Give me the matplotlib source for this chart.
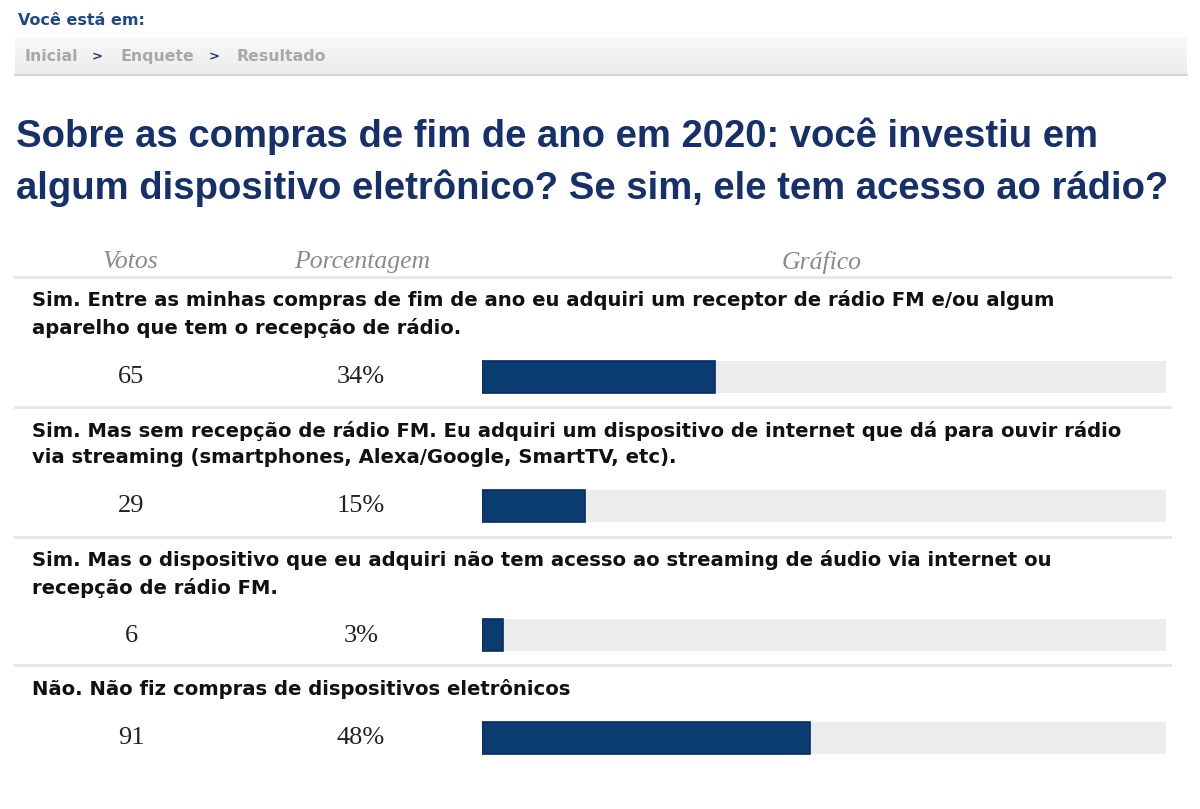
import matplotlib
matplotlib.use("Agg")
import matplotlib.pyplot as plt
import numpy as np

# ---- data ----
questions = [
    "Sim. Entre as minhas compras de fim de ano eu adquiri um receptor de rádio FM e/ou algum\naparelho que tem o recepção de rádio.",
    "Sim. Mas sem recepção de rádio FM. Eu adquiri um dispositivo de internet que dá para ouvir rádio\nvia streaming (smartphones, Alexa/Google, SmartTV, etc).",
    "Sim. Mas o dispositivo que eu adquiri não tem acesso ao streaming de áudio via internet ou\nrecepção de rádio FM.",
    "Não. Não fiz compras de dispositivos eletrônicos",
]
votes = [65, 29, 6, 91]
percentages = [34, 15, 3, 48]
column_headers = ["Votos", "Porcentagem", "Gráfico"]
title = "Sobre as compras de fim de ano em 2020: você investiu em\nalgum dispositivo eletrônico? Se sim, ele tem acesso ao rádio?"
breadcrumb = ["Inicial", "Enquete", "Resultado"]

W, H = 1200, 809
fig = plt.figure(figsize=(W / 100, H / 100), dpi=100)
ax = fig.add_axes([0, 0, 1, 1])
ax.set_xlim(0, W)
ax.set_ylim(H, 0)
ax.axis("off")

navy = "#15306a"
sans = ["Liberation Sans", "DejaVu Sans"]
wide = ["DejaVu Sans"]
serif = ["Liberation Serif", "DejaVu Serif"]

# header
ax.text(18, 20, "Você está em:", fontsize=11.5, fontweight="bold", color="#1d4a86",
        family=wide, va="center", ha="left")
# breadcrumb box with gradient
grad = np.linspace(0, 1, 50).reshape(-1, 1)
ax.imshow(grad, extent=(15, 1187, 74, 38), cmap=matplotlib.colors.LinearSegmentedColormap.from_list(
    "g", ["#f8f8f8", "#ececec"]), aspect="auto", zorder=0)
ax.plot([15, 1187], [74.5, 74.5], color="#d5d5d5", lw=1.5)
crumb_x = [24, 121, 237]
arrow_x = [97, 214]
for cx, b in zip(crumb_x, breadcrumb):
    ax.text(cx, 56, b, fontsize=11.3, fontweight="bold", color="#a8a8a8",
            family=wide, va="center", ha="left")
for axx in arrow_x:
    ax.text(axx, 57, ">", fontsize=9.5, fontweight="bold", color="#1b3a6b",
            family=wide, va="center", ha="center")

# title
ax.text(16, 162, title, fontsize=27.5, fontweight="bold", color=navy, family=sans,
        va="center", ha="left", linespacing=1.5)

# column headers
header_x = [131, 362, 822]
for hx, h in zip(header_x, column_headers):
    ax.text(hx, 262, h, fontsize=18.5, style="italic", color="#8a8a8a", family=serif,
            va="center", ha="center")
ax.plot([15, 1170], [277, 277], color="#e6e6e6", lw=2)

# rows
q_y = [314, 444, 574, 689]
row_y = [376.5, 505.5, 635, 738]
sep_y = [407, 537, 665]
for qy, q in zip(q_y, questions):
    ax.text(32, qy, q, fontsize=14.15, fontweight="bold", color="#111111", family=wide,
            va="center", ha="left", linespacing=1.47)
for ry, v, p in zip(row_y, votes, percentages):
    ax.text(131, ry + 0.5, str(v), fontsize=19, color="#222222", family=serif, va="center", ha="center")
    ax.text(361, ry + 0.5, f"{p}%", fontsize=19, color="#222222", family=serif, va="center", ha="center")
for sy in sep_y:
    ax.plot([15, 1170], [sy, sy], color="#e6e6e6", lw=2)

# bars
bax = fig.add_axes([482 / W, 0, (1166 - 482) / W, 1])
bax.set_xlim(0, 100)
bax.set_ylim(H, 0)
bax.axis("off")
bax.patch.set_alpha(0)
bax.barh(row_y, [100] * len(row_y), height=32, color="#ececec", edgecolor="none")
bax.barh(row_y, percentages, height=32, color="#0b3c70", edgecolor="#0a2a66", linewidth=1.2)

fig.savefig("out.png", dpi=100, facecolor="white")
